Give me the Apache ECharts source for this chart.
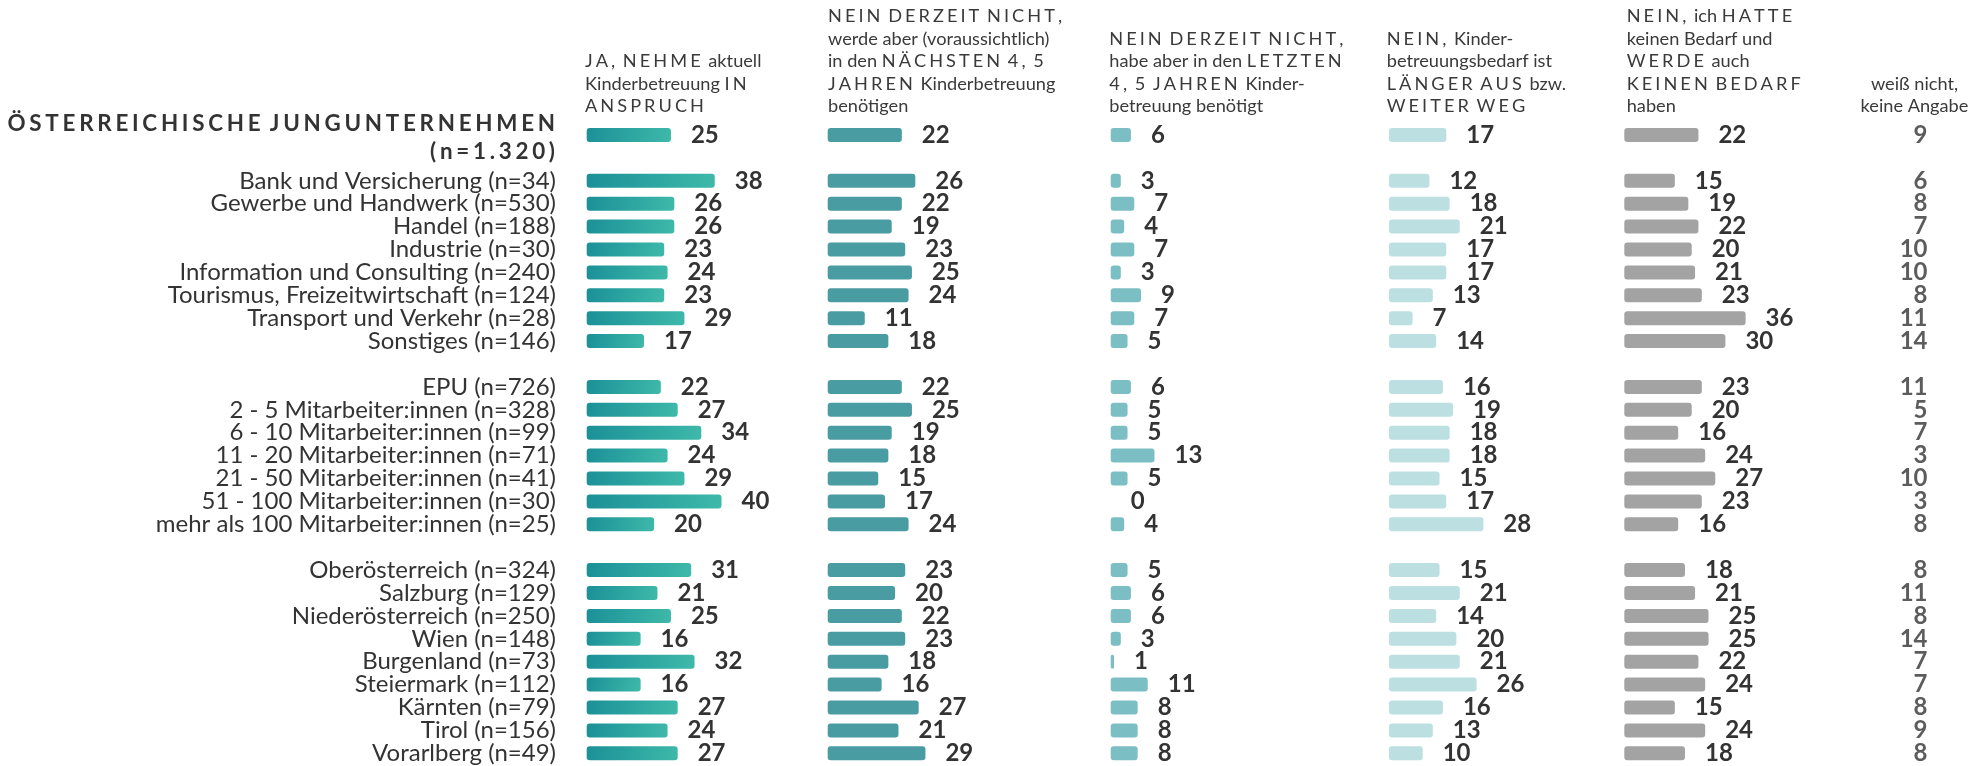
<!DOCTYPE html>
<html>
<head>
<meta charset="utf-8">
<script src="https://cdn.jsdelivr.net/npm/echarts@6.0.0/dist/echarts.min.js"></script>
<style>
html,body{margin:0;padding:0;background:#fff;}
#c{width:1988px;height:766px;}
</style>
</head>
<body>
<div id="c"></div>
<script>
// ---------- DATA ----------
const categories = [
  'ÖSTERREICHISCHE JUNGUNTERNEHMEN (n=1.320)',
  '',
  'Bank und Versicherung (n=34)',
  'Gewerbe und Handwerk (n=530)',
  'Handel (n=188)',
  'Industrie (n=30)',
  'Information und Consulting (n=240)',
  'Tourismus, Freizeitwirtschaft (n=124)',
  'Transport und Verkehr (n=28)',
  'Sonstiges (n=146)',
  '',
  'EPU (n=726)',
  '2 - 5 Mitarbeiter:innen (n=328)',
  '6 - 10 Mitarbeiter:innen (n=99)',
  '11 - 20 Mitarbeiter:innen (n=71)',
  '21 - 50 Mitarbeiter:innen (n=41)',
  '51 - 100 Mitarbeiter:innen (n=30)',
  'mehr als 100 Mitarbeiter:innen (n=25)',
  '',
  'Oberösterreich (n=324)',
  'Salzburg (n=129)',
  'Niederösterreich (n=250)',
  'Wien (n=148)',
  'Burgenland (n=73)',
  'Steiermark (n=112)',
  'Kärnten (n=79)',
  'Tirol (n=156)',
  'Vorarlberg (n=49)'
];

const jaAktuell        = [25, null, 38, 26, 26, 23, 24, 23, 29, 17, null, 22, 27, 34, 24, 29, 40, 20, null, 31, 21, 25, 16, 32, 16, 27, 24, 27];
const naechsteJahre    = [22, null, 26, 22, 19, 23, 25, 24, 11, 18, null, 22, 25, 19, 18, 15, 17, 24, null, 23, 20, 22, 23, 18, 16, 27, 21, 29];
const letzteJahre      = [6,  null, 3,  7,  4,  7,  3,  9,  7,  5,  null, 6,  5,  5,  13, 5,  0,  4,  null, 5,  6,  6,  3,  1,  11, 8,  8,  8];
const laengerAus       = [17, null, 12, 18, 21, 17, 17, 13, 7,  14, null, 16, 19, 18, 18, 15, 17, 28, null, 15, 21, 14, 20, 21, 26, 16, 13, 10];
const keinBedarf       = [22, null, 15, 19, 22, 20, 21, 23, 36, 30, null, 23, 20, 16, 24, 27, 23, 16, null, 18, 21, 25, 25, 22, 24, 15, 24, 18];
const weissNicht       = [9,  null, 6,  8,  7,  10, 10, 8,  11, 14, null, 11, 5,  7,  3,  10, 3,  8,  null, 8,  11, 8,  14, 7,  7,  8,  9,  8];

const headers = [
  'JA, NEHME aktuell\nKinderbetreuung IN\nANSPRUCH',
  'NEIN DERZEIT NICHT,\nwerde aber (voraussichtlich)\nin den NÄCHSTEN 4, 5\nJAHREN Kinderbetreuung\nbenötigen',
  'NEIN DERZEIT NICHT,\nhabe aber in den LETZTEN\n4, 5 JAHREN Kinder-\nbetreuung benötigt',
  'NEIN, Kinder-\nbetreuungsbedarf ist\nLÄNGER AUS bzw.\nWEITER WEG',
  'NEIN, ich HATTE\nkeinen Bedarf und\nWERDE auch\nKEINEN BEDARF\nhaben',
  'weiß nicht,\nkeine Angabe'
];

// ---------- LAYOUT / STYLE ----------
const FONT = 'Lato, "Open Sans", sans-serif';
const TEXT = '#333333';
const GRID_TOP = 123.55, GRID_H = 641.2;
const AXIS_MAX = 60, PX_PER_UNIT = 3.37;
const GRID_W = AXIS_MAX * PX_PER_UNIT;
const colLeft = [586.7, 827.7, 1110.7, 1389, 1624.3];
const headerX = [585, 828, 1109.3, 1386.7, 1626.7];
const VAL_RIGHT = 1928;
const GAP = '\u2006';

const col1Gradient = new echarts.graphic.LinearGradient(0, 0, 1, 1, [
  {offset: 0, color: '#1b9098'}, {offset: 1, color: '#3eb9a9'}
]);
const colors = [col1Gradient, '#4a9ca3', '#7bbfc4', '#bcdfe2', '#a3a3a3'];
const seriesData = [jaAktuell, naechsteJahre, letzteJahre, laengerAus, keinBedarf];

function spacedLine(line, force) {
  return line.split(' ').map(w => (force || !/[a-zäöüß]/.test(w)) ? w.split('').join(GAP) + GAP : w).join(' ');
}
function spaced(txt) { return txt.split('\n').map(l => spacedLine(l, false)).join('\n'); }

const grids = [], xAxes = [], yAxes = [], series = [];
for (let k = 0; k < 5; k++) {
  grids.push({left: colLeft[k], top: GRID_TOP, width: GRID_W, height: GRID_H, containLabel: false, outerBoundsMode: 'none'});
  xAxes.push({type: 'value', gridIndex: k, min: 0, max: AXIS_MAX, show: false});
  yAxes.push({
    type: 'category', gridIndex: k, data: categories, inverse: true,
    axisLine: {show: false}, axisTick: {show: false}, splitLine: {show: false},
    axisLabel: k === 0 ? {
      show: true, interval: 0, margin: 30.7, fontFamily: FONT, fontSize: 24, fontWeight: 400, color: TEXT,
      formatter: (v, i) => i === 0 ? '' : v
    } : {show: false}
  });
  series.push({
    type: 'bar', xAxisIndex: k, yAxisIndex: k, barWidth: 14,
    data: seriesData[k].map(v => v == null ? '-' : v),
    itemStyle: {color: colors[k], borderRadius: 3},
    label: {show: true, position: 'right', distance: 20, formatter: '{c}',
      fontFamily: FONT, fontSize: 24, fontWeight: 'bold', color: TEXT},
    silent: true, animation: false
  });
}
// sixth column: plain values, right-aligned
grids.push({left: VAL_RIGHT, top: GRID_TOP, width: 40, height: GRID_H, containLabel: false, outerBoundsMode: 'none'});
xAxes.push({type: 'value', gridIndex: 5, min: 0, max: 1, show: false});
yAxes.push({type: 'category', gridIndex: 5, data: categories, inverse: true, show: false});
series.push({
  type: 'scatter', xAxisIndex: 5, yAxisIndex: 5, symbolSize: 1,
  itemStyle: {color: 'rgba(0,0,0,0)'},
  data: weissNicht.map((v, i) => v == null ? null : [0, i, v]),
  label: {show: true, position: 'left', distance: 0, formatter: p => p.value[2],
    fontFamily: FONT, fontSize: 24, fontWeight: 'bold', color: TEXT},
  silent: true, animation: false
});

// header texts
const graphic = [];
headers.forEach((h, k) => {
  const isLast = k === 5;
  graphic.push({
    type: 'text', x: isLast ? 1914.5 : headerX[k], y: 117.5, silent: true,
    style: {text: spaced(h), fontFamily: FONT, fontSize: 18.2, fontWeight: 400, fill: '#3a3a3a',
      lineHeight: 22.5, align: isLast ? 'center' : 'left', verticalAlign: 'bottom'}
  });
});
// title (first category)
const titleParts = categories[0].split(' (');
graphic.push({
  type: 'text', x: 555, y: 124, silent: true,
  style: {text: spacedLine(titleParts[0], true).replace(/\u2006$/, ''), fontFamily: FONT, fontSize: 22.4, fontWeight: 'bold',
    fill: TEXT, align: 'right', verticalAlign: 'middle'}
});
graphic.push({
  type: 'text', x: 555, y: 152, silent: true,
  style: {text: spacedLine('(' + titleParts[1], true).replace(/\u2006$/, ''), fontFamily: FONT, fontSize: 22.4, fontWeight: 'bold',
    fill: TEXT, align: 'right', verticalAlign: 'middle'}
});

const chart = echarts.init(document.getElementById('c'), null, {renderer: 'canvas'});
chart.setOption({
  backgroundColor: '#ffffff',
  animation: false,
  grid: grids, xAxis: xAxes, yAxis: yAxes, series: series, graphic: graphic
});
</script>
</body>
</html>
